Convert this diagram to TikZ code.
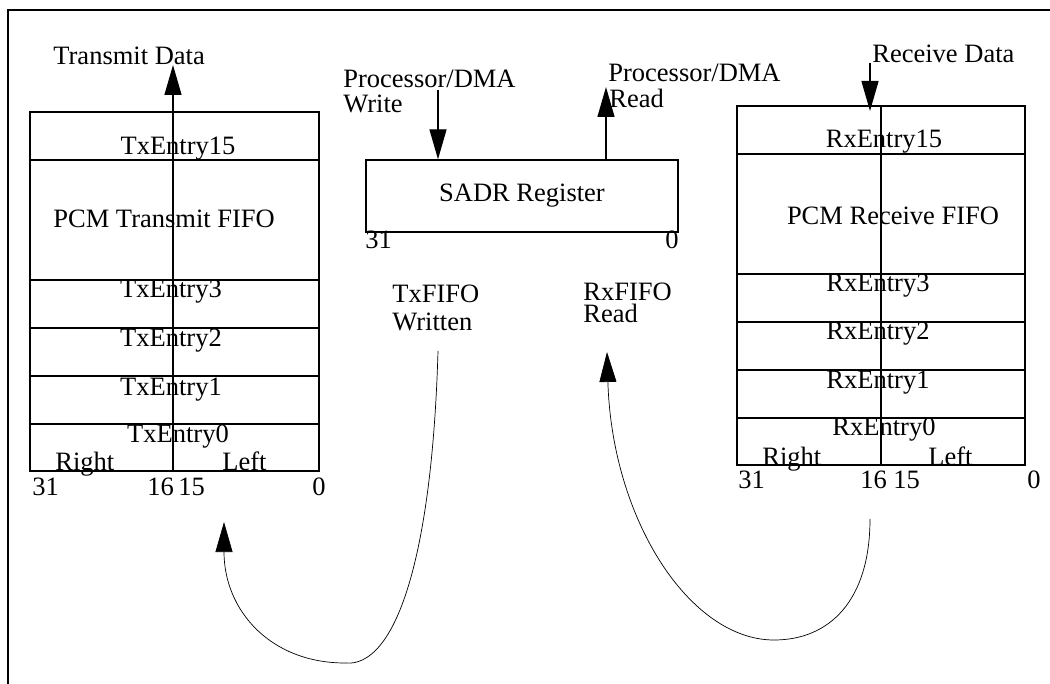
\documentclass[tikz,border=0pt]{standalone}
\usepackage{fontspec}
\setmainfont{Liberation Serif}
\usetikzlibrary{arrows.meta}
\tikzset{
  frame/.style={line width=0.55pt},
  box/.style={line width=0.7pt},
  thin curve/.style={line width=0.35pt},
  bigarrow/.style={-{Triangle[length=15pt,width=8.5pt]}},
  lw/.style={anchor=base west, inner sep=0pt},
  lc/.style={anchor=base, inner sep=0pt},
}
\begin{document}
\begin{tikzpicture}[x=0.5pt,y=-0.5pt,font=\fontsize{13.25pt}{16pt}\selectfont]
\useasboundingbox (0,0) rectangle (1050,684);
\draw[frame] (1050,10) -- (8,10) -- (8,684);

% ---- Transmit FIFO ----
\draw[box] (30,112) rectangle (319,471);
\foreach \y in {160,280,328,376,424} \draw[box] (30,\y) -- (319,\y);
\coordinate (txbot) at (173,471);
\coordinate (txout) at (173,65);
\draw[box,bigarrow] (txbot) -- (txout);
\node[lw] (txdata) at (53,65) {Transmit Data};
\node[lc] (tx15) at (178,155) {TxEntry15};
\node[lw] (txfifo) at (53,228) {PCM Transmit FIFO};
\node[lc] (tx3) at (171,298) {TxEntry3};
\node[lc] (tx2) at (171,347) {TxEntry2};
\node[lc] (tx1) at (171,395) {TxEntry1};
\node[lc] (tx0) at (178,443) {TxEntry0};
\node[lw] (txr) at (55,470) {Right};
\node[lw] (txl) at (222,470) {Left};
\node[lw] (tx31) at (32,495) {31};
\node[lw] (tx16) at (147,495) {16};
\node[lw] (tx15b) at (178,495) {15};
\node[lw] (tx0b) at (312,495) {0};

% ---- SADR register ----
\node[box,draw,minimum width=156pt,minimum height=36pt,inner sep=0pt] (sadr) at (522,196) {SADR Register};
\node[lw] (s31) at (365,249) {31};
\node[lw] (s0) at (665,249) {0};
\coordinate (wsrc) at (438,90);
\draw[box,bigarrow] (wsrc) -- (wsrc |- sadr.north);
\node[lw] (pw1) at (343,88) {Processor/DMA};
\node[lw] (pw2) at (343,113) {Write};
\coordinate (rdst) at (606,87);
\draw[box,bigarrow] (rdst |- sadr.north) -- (rdst);
\node[lw] (pr1) at (608,82) {Processor/DMA};
\node[lw] (pr2) at (609,108) {Read};

% ---- Receive FIFO ----
\draw[box] (737,106) rectangle (1025,465);
\foreach \y in {154,274,322,370,418} \draw[box] (737,\y) -- (1025,\y);
\draw[box] (881,106) -- (881,465);
\coordinate (rxin) at (870,63);
\coordinate (rxtop) at (870,111);
\draw[box,bigarrow] (rxin) -- (rxtop);
\node[lw] (rxdata) at (872,63) {Receive Data};
\node[lc] (rx15) at (884,148) {RxEntry15};
\node[lc] (rxfifo) at (893,225) {PCM Receive FIFO};
\node[lc] (rx3) at (878,292) {RxEntry3};
\node[lc] (rx2) at (878,340) {RxEntry2};
\node[lc] (rx1) at (878,388) {RxEntry1};
\node[lc] (rx0) at (884,435) {RxEntry0};
\node[lw] (rxr) at (762,465) {Right};
\node[lw] (rxl) at (928,465) {Left};
\node[lw] (rx31) at (738,488) {31};
\node[lw] (rx16) at (860,488) {16};
\node[lw] (rx15b) at (893,488) {15};
\node[lw] (rx0b) at (1027,488) {0};

% ---- middle labels ----
\node[lw] (txw1) at (392,303) {TxFIFO};
\node[lw] (txw2) at (392,330) {Written};
\node[lw] (rxr1) at (583,300) {RxFIFO};
\node[lw] (rxr2) at (583,322) {Read};

% ---- curved arrows ----
\coordinate (c1s) at (438,351);
\coordinate (c1m) at (345,663);
\coordinate (c1e) at (224,522);
\draw[thin curve,bigarrow] (c1s) .. controls (432,560) and (395,668) .. (c1m)
   .. controls (270,663) and (224,610) .. (c1e);
\coordinate (c2s) at (870,519);
\coordinate (c2m) at (774,640);
\coordinate (c2e) at (607,352);
\draw[thin curve,bigarrow] (c2s) .. controls (870,600) and (830,640) .. (c2m)
   .. controls (690,640) and (612,520) .. (c2e);
\end{tikzpicture}
\end{document}
